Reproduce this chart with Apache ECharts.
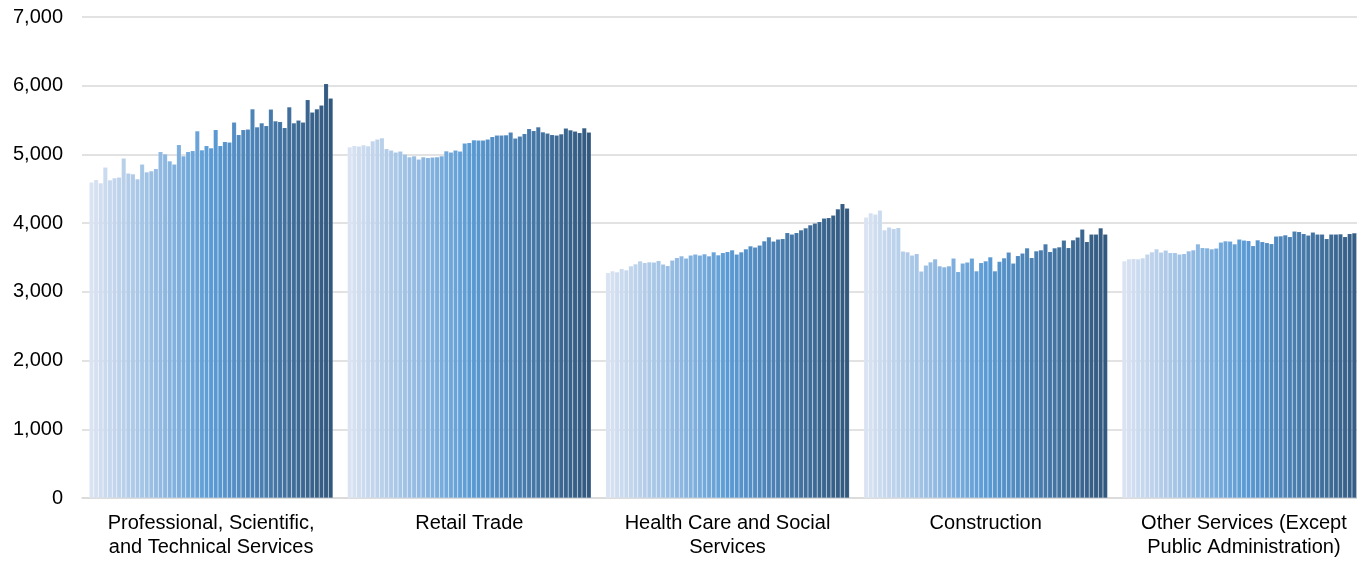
<!DOCTYPE html>
<html>
<head>
<meta charset="utf-8">
<script src="https://cdn.jsdelivr.net/npm/echarts@6/dist/echarts.min.js"></script>
<style>html,body{margin:0;padding:0;background:#fff;overflow:hidden;width:1357px;height:561px;}#chart{width:1373px;height:561px;}</style>
</head>
<body>
<div id="chart"></div>
<script>
const categories = [
  "Professional, Scientific,\nand Technical Services",
  "Retail Trade",
  "Health Care and Social\nServices",
  "Construction",
  "Other Services (Except\nPublic Administration)"
];
const yTicks = [0, 1000, 2000, 3000, 4000, 5000, 6000, 7000];

const professional = [4595,4633,4585,4813,4628,4657,4667,4944,4725,4715,4643,4856,4745,4759,4793,5040,5007,4905,4856,5142,4977,5040,5055,5341,5065,5128,5094,5360,5128,5186,5177,5467,5288,5360,5365,5662,5399,5458,5419,5657,5487,5477,5390,5691,5458,5497,5467,5797,5613,5662,5715,6030,5817];
const retail = [5108,5128,5118,5137,5123,5196,5220,5239,5084,5060,5031,5045,5002,4963,4977,4929,4963,4953,4958,4963,4977,5050,5031,5060,5045,5162,5171,5210,5206,5206,5220,5259,5278,5278,5283,5322,5235,5264,5302,5375,5346,5399,5327,5307,5288,5278,5298,5380,5356,5337,5317,5385,5322];
const healthCare = [3279,3304,3289,3337,3318,3376,3406,3449,3425,3435,3430,3454,3401,3381,3459,3498,3522,3488,3532,3547,3532,3551,3522,3580,3537,3570,3585,3609,3547,3580,3624,3667,3648,3677,3740,3799,3736,3765,3774,3861,3838,3861,3900,3929,3973,3998,4022,4071,4080,4114,4206,4284,4216];
const construction = [4085,4148,4129,4187,3900,3939,3920,3934,3590,3580,3532,3556,3299,3387,3435,3478,3376,3362,3376,3488,3294,3416,3430,3488,3304,3425,3449,3507,3304,3440,3493,3575,3416,3527,3561,3638,3498,3595,3609,3697,3585,3638,3653,3750,3643,3755,3794,3911,3731,3838,3838,3929,3838];
const otherServices = [3449,3478,3483,3478,3493,3547,3580,3624,3575,3605,3570,3570,3547,3556,3595,3609,3697,3643,3638,3624,3634,3721,3740,3736,3697,3765,3750,3745,3672,3755,3731,3716,3701,3809,3813,3828,3803,3881,3876,3847,3823,3867,3838,3838,3774,3838,3838,3842,3803,3847,3857,3860,3870];

const groups = [professional, retail, healthCare, construction, otherServices];
const nSeries = professional.length;

function lerp(a, b, t) { return Math.round(a + (b - a) * t); }
function colorAt(i) {
  const c0 = [218, 227, 242], c1 = [91, 155, 213], c2 = [50, 88, 126];
  const mid = (nSeries - 1) / 2;
  let a, b, t;
  if (i <= mid) { a = c0; b = c1; t = i / mid; } else { a = c1; b = c2; t = (i - mid) / mid; }
  return 'rgb(' + lerp(a[0], b[0], t) + ',' + lerp(a[1], b[1], t) + ',' + lerp(a[2], b[2], t) + ')';
}

const series = [];
for (let i = 0; i < nSeries; i++) {
  series.push({
    name: 'Period ' + (i + 1),
    type: 'bar',
    barGap: '0%',
    barCategoryGap: '5.6%',
    data: groups.map(g => g[i]),
    itemStyle: { color: colorAt(i), borderColor: 'rgba(255,255,255,0.22)', borderWidth: 0.5 },
    emphasis: { disabled: true }
  });
}

const chart = echarts.init(document.getElementById('chart'));
chart.setOption({
  animation: false,
  grid: { left: 82, right: 0, top: 17, bottom: 63, containLabel: false },
  xAxis: {
    type: 'category',
    data: categories,
    axisLine: { lineStyle: { color: '#d9d9d9', width: 1.5 } },
    axisTick: { show: false },
    axisLabel: { color: '#000', fontFamily: 'Liberation Sans, Arial, sans-serif', fontSize: 20, lineHeight: 24, margin: 13, interval: 0 }
  },
  yAxis: {
    type: 'value',
    min: yTicks[0],
    max: yTicks[yTicks.length - 1],
    interval: 1000,
    axisLine: { show: false },
    axisTick: { show: false },
    axisLabel: {
      color: '#000', fontFamily: 'Liberation Sans, Arial, sans-serif', fontSize: 20, margin: 19,
      formatter: v => v.toLocaleString('en-US')
    },
    splitLine: { lineStyle: { color: '#d9d9d9', width: 1.5 } }
  },
  series: series
});
</script>
</body>
</html>
